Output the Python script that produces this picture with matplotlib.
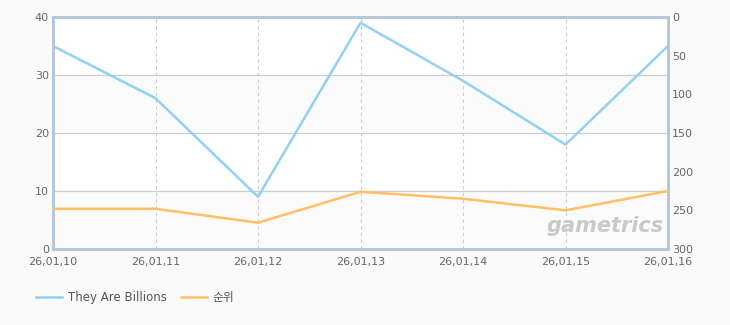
import matplotlib.pyplot as plt
import numpy as np

plt.rcParams['font.family'] = ['DejaVu Sans', 'Noto Sans CJK KR']

dates = ["26,01,10", "26,01,11", "26,01,12", "26,01,13", "26,01,14", "26,01,15", "26,01,16"]
players = [35, 26, 9, 39, 29, 18, 35]
rank = [248, 248, 266, 226, 235, 250, 225]

blue = "#92d1f1"
orange = "#ffc064"
frame = "#b4c6d8"
txt = "#666666"

fig = plt.figure(figsize=(7.3, 3.25), dpi=100)
fig.patch.set_facecolor("#fafafa")
ax = fig.add_axes([53 / 730, 1 - 249 / 325, 615 / 730, 232 / 325])
ax.set_facecolor("white")

x = np.arange(len(dates))

# alternating bands
for lo in [0, 20]:
    ax.axhspan(lo, lo + 10, color="#fbfbfb", zorder=0)
for yv in [10, 20, 30]:
    ax.axhline(yv, color="#cccccc", lw=0.9, zorder=1)
for xv in x[1:-1]:
    ax.axvline(xv, color="#cccccc", lw=0.8, ls=(0, (3, 3)), zorder=1)

l1, = ax.plot(x, players, color=blue, lw=1.8, zorder=3, label="They Are Billions")
ax.set_xlim(0, len(dates) - 1)
ax.set_ylim(0, 40)
ax.set_yticks([0, 10, 20, 30, 40])
ax.set_xticks(x)
ax.set_xticklabels(dates)

ax2 = ax.twinx()
l2, = ax2.plot(x, rank, color=orange, lw=1.8, zorder=3, label="순위")
ax2.set_ylim(300, 0)
ax2.set_yticks([0, 50, 100, 150, 200, 250, 300])

for a in (ax, ax2):
    for s in a.spines.values():
        s.set_color(frame)
        s.set_linewidth(1.8)
    a.tick_params(length=0, labelsize=8, colors=txt)
ax.tick_params(axis="y", pad=3)
ax.tick_params(axis="x", pad=6)
ax2.tick_params(axis="y", pad=3)

fig.text(605 / 730, 1 - 226 / 325, "gametrics", fontsize=15, fontweight="bold",
         style="italic", color="#c9c9c9", ha="center", va="center")

fig.legend(handles=[l1, l2], loc="center left", bbox_to_anchor=(25 / 730, 1 - 298 / 325),
           ncol=2, frameon=False, fontsize=8.5, labelcolor="#555555",
           handlelength=2.2, handletextpad=0.5, columnspacing=1.2)

fig.savefig("out.png", dpi=100, facecolor=fig.get_facecolor())
